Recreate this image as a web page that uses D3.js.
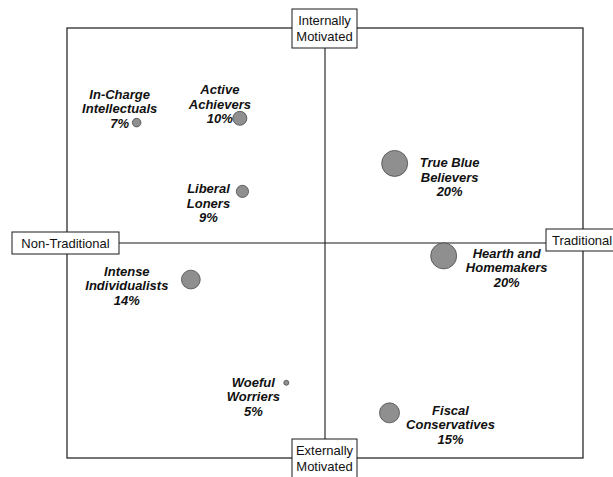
<!DOCTYPE html>
<html>
<head>
<meta charset="utf-8">
<title>Segments map</title>
<script src="https://cdn.jsdelivr.net/npm/d3@7"></script>
<style>
  body { margin: 0; background: #fff; }
  .seg text { font: italic bold 13px Arial, "Liberation Sans", sans-serif; fill: #111; text-anchor: middle; }
  .axisbox text { font: 13px Arial, "Liberation Sans", sans-serif; fill: #111; text-anchor: middle; }
</style>
</head>
<body>
<svg id="chart" width="613" height="477"></svg>
<script>
// segment names (one entry per label line), share of population, position on the two axes
const segments = [
  ["In-Charge", "Intellectuals"],
  ["Active", "Achievers"],
  ["Liberal", "Loners"],
  ["True Blue", "Believers"],
  ["Hearth and", "Homemakers"],
  ["Intense", "Individualists"],
  ["Woeful", "Worriers"],
  ["Fiscal", "Conservatives"]
];
const share = [7, 10, 9, 20, 20, 14, 5, 15];
const tradition = [-0.73, -0.33, -0.32, 0.27, 0.46, -0.52, -0.15, 0.25];   // non-traditional .. traditional
const motivation = [0.56, 0.58, 0.24, 0.37, -0.06, -0.17, -0.65, -0.79];  // externally .. internally

const axisTop = ["Internally", "Motivated"];
const axisBottom = ["Externally", "Motivated"];
const axisLeft = "Non-Traditional";
const axisRight = "Traditional";

// where each label block sits relative to its dot (pixels)
const labelDx = [-17, -20, -34, 55, 63, -64, -33, 61];
const labelDy = [-24, -24, 2, 4, 2, -4, 4, 2];
const lineH = 14.5;

const svg = d3.select("#chart");
const x = d3.scaleLinear().domain([-1, 1]).range([67, 583]);
const y = d3.scaleLinear().domain([-1, 1]).range([458, 28]);
const r = d3.scaleLinear().domain([5, 10, 20]).range([2.5, 7, 13]);

const ink = "#1a1a1a";

// outer frame
svg.append("rect")
  .attr("x", x(-1)).attr("y", y(1))
  .attr("width", x(1) - x(-1)).attr("height", y(-1) - y(1))
  .attr("fill", "none").attr("stroke", ink).attr("stroke-width", 1.2);

// quadrant lines
svg.append("line")
  .attr("x1", x(0)).attr("x2", x(0)).attr("y1", y(1)).attr("y2", y(-1))
  .attr("stroke", ink).attr("stroke-width", 1.1);
svg.append("line")
  .attr("x1", x(-1)).attr("x2", x(1)).attr("y1", y(0)).attr("y2", y(0))
  .attr("stroke", ink).attr("stroke-width", 1.1);

// axis end boxes
const boxes = svg.append("g").attr("class", "axisbox");
function axisBox(cx, cy, w, h, lines) {
  const g = boxes.append("g");
  g.append("rect")
    .attr("x", cx - w / 2).attr("y", cy - h / 2).attr("width", w).attr("height", h)
    .attr("fill", "#fff").attr("stroke", ink).attr("stroke-width", 1);
  const n = lines.length;
  lines.forEach((t, i) => {
    g.append("text")
      .attr("x", cx)
      .attr("y", cy + (i - (n - 1) / 2) * 16)
      .attr("dy", "0.36em")
      .text(t);
  });
  return g;
}
axisBox(x(0) - 0.5, y(1) + 0.5, 65, 39, axisTop);
axisBox(x(0) - 0.5, y(-1) + 0.5, 65, 39, axisBottom);
axisBox(x(-1) - 1.5, y(0), 107, 22, [axisLeft]);
const rightBox = axisBox(x(1) + 0.5, y(0) - 3, 75, 22, [axisRight]);
// right box is partly off the page: start its text near the left edge of the box
rightBox.select("text").attr("x", x(1) - 31).style("text-anchor", "start");

// dots
const idx = d3.range(segments.length);
const seg = svg.append("g").attr("class", "seg");
seg.selectAll("circle")
  .data(idx)
  .join("circle")
  .attr("cx", i => x(tradition[i]))
  .attr("cy", i => y(motivation[i]))
  .attr("r", i => r(share[i]))
  .attr("fill", "#8f8f8f")
  .attr("stroke", "#4a4a4a")
  .attr("stroke-width", 0.8);

// labels
const lab = seg.selectAll("g.lab")
  .data(idx)
  .join("g")
  .attr("class", "lab")
  .attr("transform", i => `translate(${x(tradition[i]) + labelDx[i]},${y(motivation[i]) + labelDy[i]})`);

lab.each(function(i) {
  const g = d3.select(this);
  const lines = segments[i].concat([share[i] + "%"]);
  lines.forEach((t, k) => {
    g.append("text").attr("x", 0).attr("y", k * lineH).text(t);
  });
});
</script>
</body>
</html>
